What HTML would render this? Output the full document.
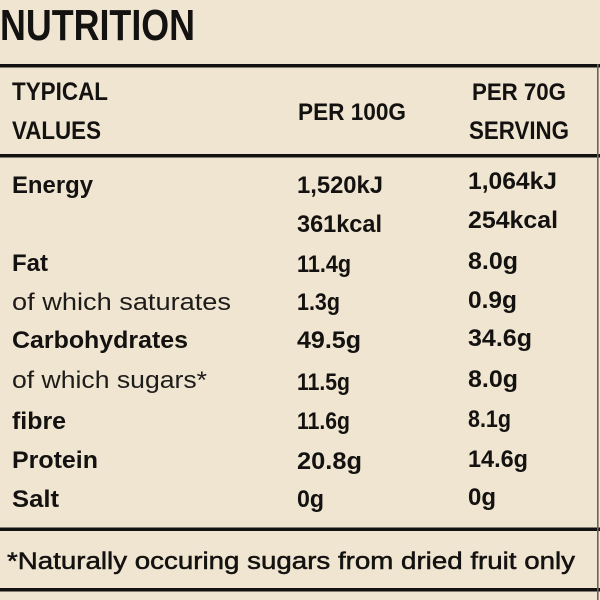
<!DOCTYPE html>
<html>
<head>
<meta charset="utf-8">
<style>
html,body{margin:0;padding:0;width:600px;height:600px;overflow:hidden;background:#efe5d1;}
svg{display:block;}
text{font-family:"Liberation Sans",sans-serif;fill:#141210;}
.b{font-weight:bold;}
.l{font-weight:normal;fill:#1e1c1a;}
</style>
</head>
<body>
<svg width="600" height="600" viewBox="0 0 600 600" xmlns="http://www.w3.org/2000/svg">
  <rect x="0" y="0" width="600" height="600" fill="#efe5d1"/>
  <!-- lines -->
  <rect x="0" y="64" width="600" height="3.5" fill="#141210"/>
  <rect x="0" y="154" width="600" height="3.5" fill="#141210"/>
  <rect x="0" y="527.5" width="600" height="3.5" fill="#141210"/>
  <rect x="0" y="588" width="600" height="3.5" fill="#141210"/>
  <rect x="597" y="64" width="1.6" height="536" fill="#6b6357"/>

  <!-- title -->
  <text class="b" x="0" y="40" font-size="44" textLength="195" lengthAdjust="spacingAndGlyphs">NUTRITION</text>

  <!-- headers -->
  <text class="b" x="12" y="100" font-size="25" textLength="96" lengthAdjust="spacingAndGlyphs">TYPICAL</text>
  <text class="b" x="12" y="139" font-size="25" textLength="89" lengthAdjust="spacingAndGlyphs">VALUES</text>
  <text class="b" x="298" y="120" font-size="24" textLength="108" lengthAdjust="spacingAndGlyphs">PER 100G</text>
  <text class="b" x="472" y="100" font-size="24" textLength="94" lengthAdjust="spacingAndGlyphs">PER 70G</text>
  <text class="b" x="469" y="139" font-size="25" textLength="100" lengthAdjust="spacingAndGlyphs">SERVING</text>

  <!-- rows: labels -->
  <text class="b" x="12" y="193" font-size="24" textLength="81" lengthAdjust="spacingAndGlyphs">Energy</text>
  <text class="b" x="12" y="271" font-size="24" textLength="36" lengthAdjust="spacingAndGlyphs">Fat</text>
  <text class="l" x="12" y="310" font-size="24" textLength="219" lengthAdjust="spacingAndGlyphs">of which saturates</text>
  <text class="b" x="12" y="348" font-size="24" textLength="176" lengthAdjust="spacingAndGlyphs">Carbohydrates</text>
  <text class="l" x="12" y="388" font-size="24" textLength="195" lengthAdjust="spacingAndGlyphs">of which sugars*</text>
  <text class="b" x="12" y="429" font-size="24" textLength="54" lengthAdjust="spacingAndGlyphs">fibre</text>
  <text class="b" x="12" y="468" font-size="24" textLength="86" lengthAdjust="spacingAndGlyphs">Protein</text>
  <text class="b" x="12" y="507" font-size="24" textLength="47" lengthAdjust="spacingAndGlyphs">Salt</text>

  <!-- column 1 -->
  <text class="b" x="297" y="193" font-size="24" textLength="86" lengthAdjust="spacingAndGlyphs">1,520kJ</text>
  <text class="b" x="297" y="232" font-size="24" textLength="85" lengthAdjust="spacingAndGlyphs">361kcal</text>
  <text class="b" x="297" y="272" font-size="24" textLength="54" lengthAdjust="spacingAndGlyphs">11.4g</text>
  <text class="b" x="297" y="310" font-size="24" textLength="43" lengthAdjust="spacingAndGlyphs">1.3g</text>
  <text class="b" x="297" y="348" font-size="24" textLength="64" lengthAdjust="spacingAndGlyphs">49.5g</text>
  <text class="b" x="297" y="390" font-size="24" textLength="53" lengthAdjust="spacingAndGlyphs">11.5g</text>
  <text class="b" x="297" y="429" font-size="24" textLength="53" lengthAdjust="spacingAndGlyphs">11.6g</text>
  <text class="b" x="297" y="469" font-size="24" textLength="65" lengthAdjust="spacingAndGlyphs">20.8g</text>
  <text class="b" x="297" y="507" font-size="24" textLength="27" lengthAdjust="spacingAndGlyphs">0g</text>

  <!-- column 2 -->
  <text class="b" x="468" y="189" font-size="24" textLength="89" lengthAdjust="spacingAndGlyphs">1,064kJ</text>
  <text class="b" x="468" y="228" font-size="24" textLength="90" lengthAdjust="spacingAndGlyphs">254kcal</text>
  <text class="b" x="468" y="269" font-size="24" textLength="50" lengthAdjust="spacingAndGlyphs">8.0g</text>
  <text class="b" x="468" y="308" font-size="24" textLength="49" lengthAdjust="spacingAndGlyphs">0.9g</text>
  <text class="b" x="468" y="346" font-size="24" textLength="64" lengthAdjust="spacingAndGlyphs">34.6g</text>
  <text class="b" x="468" y="387" font-size="24" textLength="50" lengthAdjust="spacingAndGlyphs">8.0g</text>
  <text class="b" x="468" y="427" font-size="24" textLength="43" lengthAdjust="spacingAndGlyphs">8.1g</text>
  <text class="b" x="468" y="467" font-size="24" textLength="60" lengthAdjust="spacingAndGlyphs">14.6g</text>
  <text class="b" x="468" y="505" font-size="24" textLength="28" lengthAdjust="spacingAndGlyphs">0g</text>

  <!-- footer -->
  <text x="7" y="569" font-size="24" textLength="568" lengthAdjust="spacingAndGlyphs" style="font-weight:normal;stroke:#141210;stroke-width:0.5px;">*Naturally occuring sugars from dried fruit only</text>
</svg>
</body>
</html>
